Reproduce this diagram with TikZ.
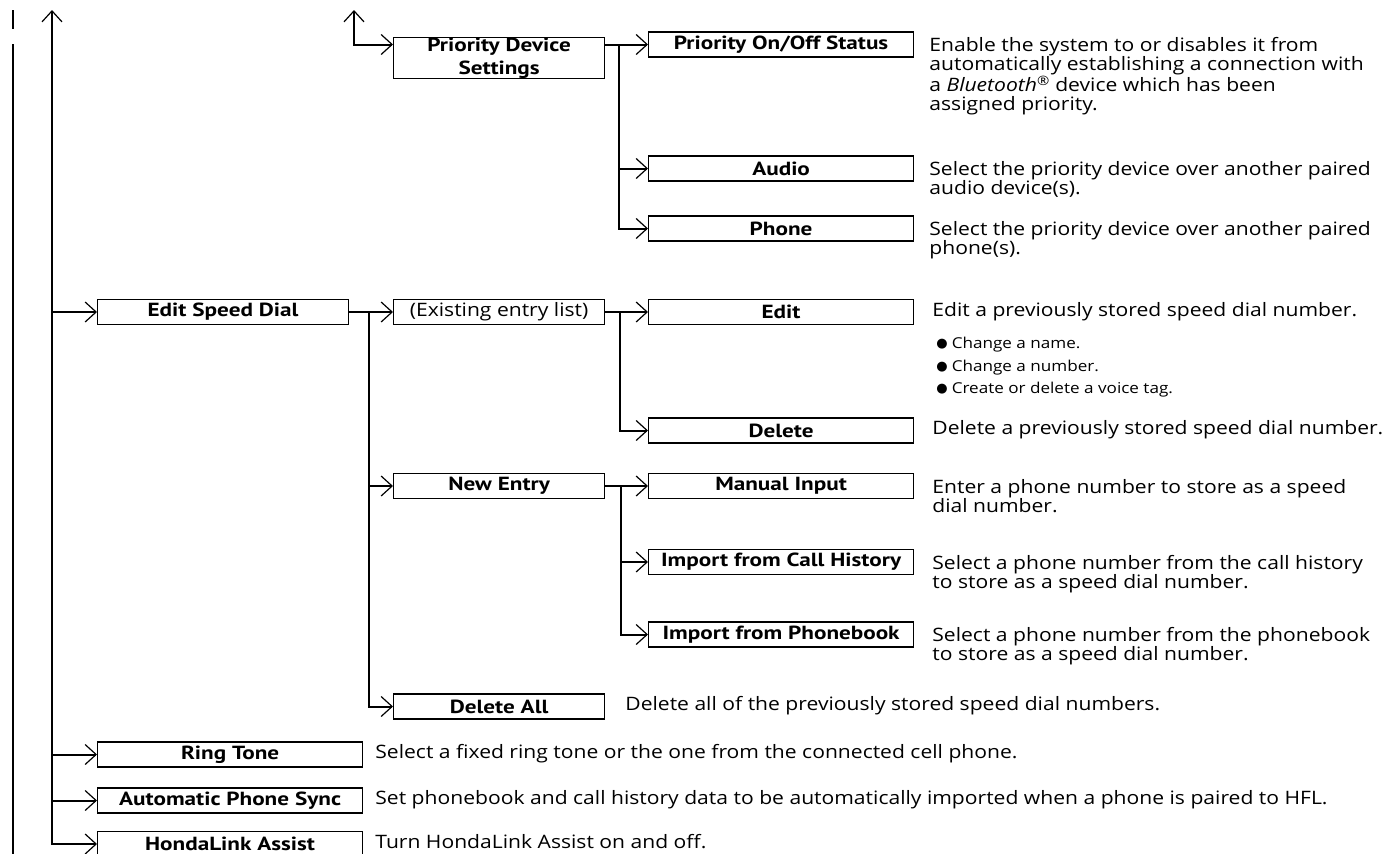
\documentclass[tikz,border=0pt]{standalone}
\usepackage{fontspec}
\setmainfont{Open Sans}[FakeStretch=1.14]
\newfontfamily\boxfont{PT Sans}[FakeStretch=1.22]
\newfontfamily\symfont{DejaVu Sans}
\usetikzlibrary{arrows.meta,positioning}

\newcommand\labelfont{\boxfont\bfseries\fontsize{19}{19}\selectfont}
\newcommand\entryfont{\fontsize{18.5}{19}\selectfont}
\newcommand\descfont{\fontsize{18.5}{19}\selectfont}
\newcommand\itemfont{\fontsize{15}{22.5}\selectfont}
\newcommand\dotmark{\raisebox{1pt}{\symfont\fontsize{13}{13}\selectfont ●}\hspace{4pt}}

\begin{document}
\begin{tikzpicture}[x=1pt,y=-1pt,
  >={Straight Barb[length=11pt,width=20pt,line width=1.2pt]},
  link/.style={line width=2pt},
  menubox/.style={draw,line width=1.2pt,inner sep=0pt,anchor=west,
    minimum height=25pt,align=center,font=\labelfont},
  desc/.style={inner sep=0pt,align=left,font=\descfont,
    execute at begin node=\strut}]
\useasboundingbox (0,0) rectangle (1387,854);
% page rule on the left
\coordinate (rulea) at (13,10);
\coordinate (ruleb) at (13,29);
\coordinate (rulec) at (13,44);
\coordinate (ruled) at (13,854);
\draw[link] (rulea) -- (ruleb) (rulec) -- (ruled);
% trunk and branch columns
\coordinate (trunk) at (52,10);
\coordinate (back) at (354,10);
\coordinate (pdsbr) at (619,0);
\coordinate (esdbr) at (369,0);
\coordinate (eelbr) at (620,0);
\coordinate (newbr) at (621,0);

% menu boxes
\node[menubox,minimum width=211pt] (pds) at (393,58)
  {Priority Device\\[4pt]Settings};
\node[menubox,minimum width=265pt] (poos) at (648,44.5) {Priority On/Off Status};
\node[menubox,minimum width=265pt] (audio) at (648,168.5) {Audio};
\node[menubox,minimum width=265pt] (phone) at (648,228.5) {Phone};
\node[menubox,minimum width=251pt] (esd) at (97,312) {Edit Speed Dial};
\node[menubox,minimum width=211pt,font=\entryfont] (eel) at (393,312)
  {(Existing entry list)};
\node[menubox,minimum width=265pt] (edit) at (648,312) {Edit};
\node[menubox,minimum width=265pt] (del) at (648,430.5) {Delete};
\node[menubox,minimum width=211pt] (newe) at (393,486) {New Entry};
\node[menubox,minimum width=265pt] (manual) at (648,486) {Manual Input};
\node[menubox,minimum width=265pt] (ifch) at (648,562) {Import from Call History};
\node[menubox,minimum width=265pt] (ifpb) at (648,634.5) {Import from Phonebook};
\node[menubox,minimum width=211pt] (delall) at (393,706.5) {Delete All};
\node[menubox,minimum width=265pt] (ring) at (97,754.5) {Ring Tone};
\node[menubox,minimum width=265pt] (aps) at (97,800.5) {Automatic Phone Sync};
\node[menubox,minimum width=265pt] (hla) at (97,844) {HondaLink Assist};

% descriptions
\node[desc,right=15pt of poos.east,anchor=north west,yshift=7pt] (poosd)
  {Enable the system to or disables it from\\
   automatically establishing a connection with\\
   a \textit{Bluetooth}\textsuperscript{®} device which has been\\
   assigned priority.};
\node[desc,right=15pt of audio.east,anchor=north west,yshift=7pt] (audiod)
  {Select the priority device over another paired\\audio device(s).};
\node[desc,right=15pt of phone.east,anchor=north west,yshift=7pt] (phoned)
  {Select the priority device over another paired\\phone(s).};
\node[desc,right=18pt of edit] (editd) {Edit a previously stored speed dial number.};
\node[desc,font=\itemfont,below right=15pt and 4pt of editd.south west] (editlist)
  {\dotmark Change a name.\\
   \dotmark Change a number.\\
   \dotmark Create or delete a voice tag.};
\node[desc,right=18pt of del] (deld) {Delete a previously stored speed dial number.};
\node[desc,right=18pt of manual.east,anchor=north west,yshift=7pt] (manuald)
  {Enter a phone number to store as a speed\\dial number.};
\node[desc,right=18pt of ifch.east,anchor=north west,yshift=7pt] (ifchd)
  {Select a phone number from the call history\\to store as a speed dial number.};
\node[desc,right=18pt of ifpb.east,anchor=north west,yshift=7pt] (ifpbd)
  {Select a phone number from the phonebook\\to store as a speed dial number.};
\node[desc,right=20pt of delall] (delalld)
  {Delete all of the previously stored speed dial numbers.};
\node[desc,right=12pt of ring] (ringd)
  {Select a fixed ring tone or the one from the connected cell phone.};
\node[desc,right=12pt of aps] (apsd)
  {Set phonebook and call history data to be automatically imported when a phone is paired to HFL.};
\node[desc,right=12pt of hla] (hlad) {Turn HondaLink Assist on and off.};

% connectors
\draw[link,<->] (trunk) |- (hla.west);
\draw[link,->] (trunk |- esd.west) -- (esd.west);
\draw[link,->] (trunk |- ring.west) -- (ring.west);
\draw[link,->] (trunk |- aps.west) -- (aps.west);
\draw[link,<->] (back) |- (pds.west |- poos.west);
\draw[link,->] (pds.east |- poos.west) -- (poos.west);
\draw[link,->] (pdsbr |- poos.west) |- (phone.west);
\draw[link,->] (pdsbr |- audio.west) -- (audio.west);
\draw[link,->] (esd.east) -- (eel.west);
\draw[link,->] (esdbr |- esd.east) |- (delall.west);
\draw[link,->] (esdbr |- newe.west) -- (newe.west);
\draw[link,->] (eel.east) -- (edit.west);
\draw[link,->] (eelbr |- eel.east) |- (del.west);
\draw[link,->] (newe.east) -- (manual.west);
\draw[link,->] (newbr |- newe.east) |- (ifpb.west);
\draw[link,->] (newbr |- ifch.west) -- (ifch.west);
\end{tikzpicture}
\end{document}
